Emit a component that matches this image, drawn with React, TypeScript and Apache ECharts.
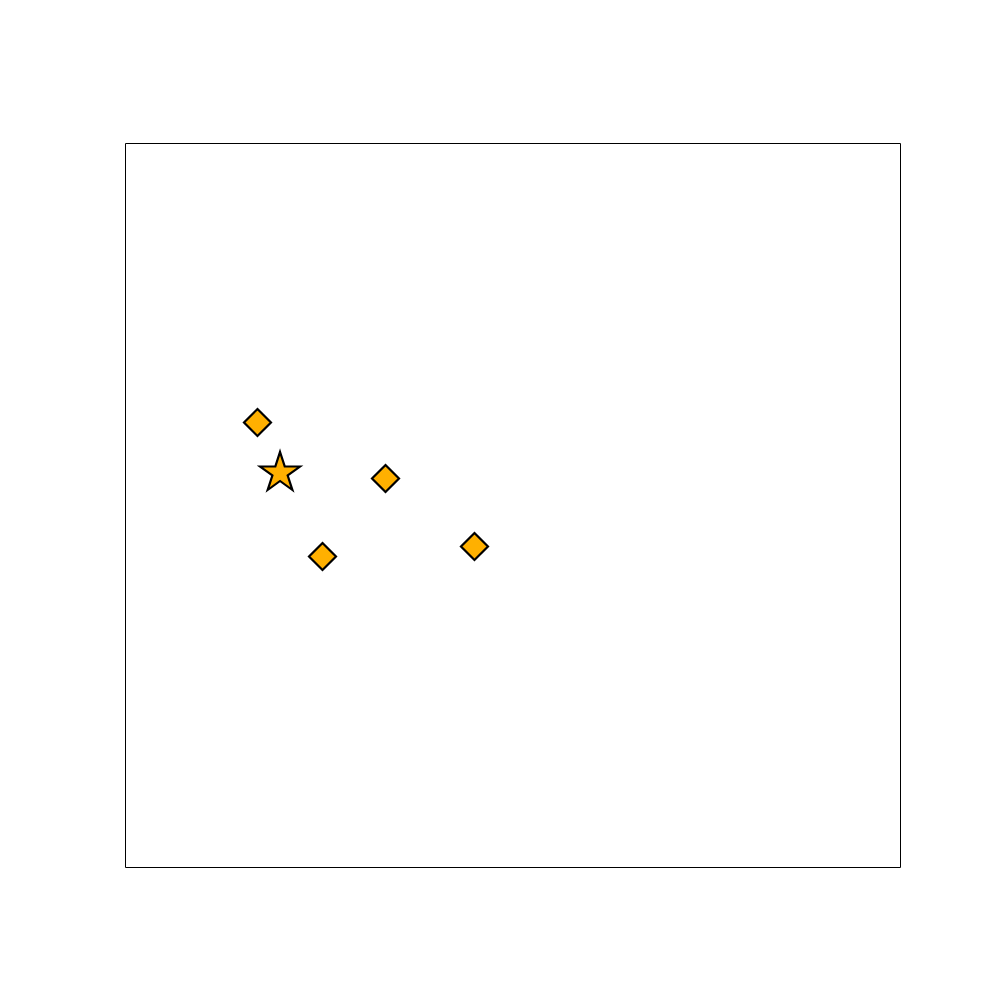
import React, { useEffect, useRef } from "react";
import * as echarts from "echarts";

const diamondX = [1.703, 3.355, 2.542, 4.503];
const diamondY = [6.146, 5.373, 4.296, 4.434];
const starX = [1.994];
const starY = [5.456];

function starPath(): string {
  const pts: string[] = [];
  const R = 100;
  const r = R * 0.381966;
  for (let i = 0; i < 10; i++) {
    const ang = (-90 + i * 36) * (Math.PI / 180);
    const rad = i % 2 === 0 ? R : r;
    const x = (rad * Math.cos(ang)).toFixed(2);
    const y = (rad * Math.sin(ang)).toFixed(2);
    pts.push((i === 0 ? "M" : "L") + x + " " + y);
  }
  return "path://" + pts.join(" ") + " Z";
}

export default function App() {
  const ref = useRef<HTMLDivElement>(null);
  useEffect(() => {
    if (!ref.current) return;
    const chart = echarts.init(ref.current, null, { renderer: "svg" });
    chart.setOption({
      animation: false,
      backgroundColor: "#ffffff",
      grid: {
        left: 125.5,
        top: 143.5,
        right: 99.5,
        bottom: 132.5,
        show: true,
        borderColor: "#000000",
        borderWidth: 1,
        backgroundColor: "transparent",
      },
      xAxis: {
        type: "value",
        min: 0,
        max: 10,
        show: false,
      },
      yAxis: {
        type: "value",
        min: 0,
        max: 10,
        show: false,
      },
      series: [
        {
          type: "scatter",
          symbol: "diamond",
          symbolSize: 27,
          data: diamondX.map((x, i) => [x, diamondY[i]]),
          itemStyle: { color: "#FFB000", borderColor: "#000000", borderWidth: 2.2, opacity: 1 },
          z: 3,
        },
        {
          type: "scatter",
          symbol: starPath(),
          symbolSize: [40, 38],
          symbolOffset: [0, -1.5],
          data: starX.map((x, i) => [x, starY[i]]),
          itemStyle: { color: "#FFB000", borderColor: "#000000", borderWidth: 2.2, opacity: 1 },
          z: 4,
        },
      ],
    });
    return () => chart.dispose();
  }, []);
  return (
    <div
      ref={ref}
      style={{ position: "absolute", left: 0, top: 0, width: 1000, height: 1000 }}
    />
  );
}
